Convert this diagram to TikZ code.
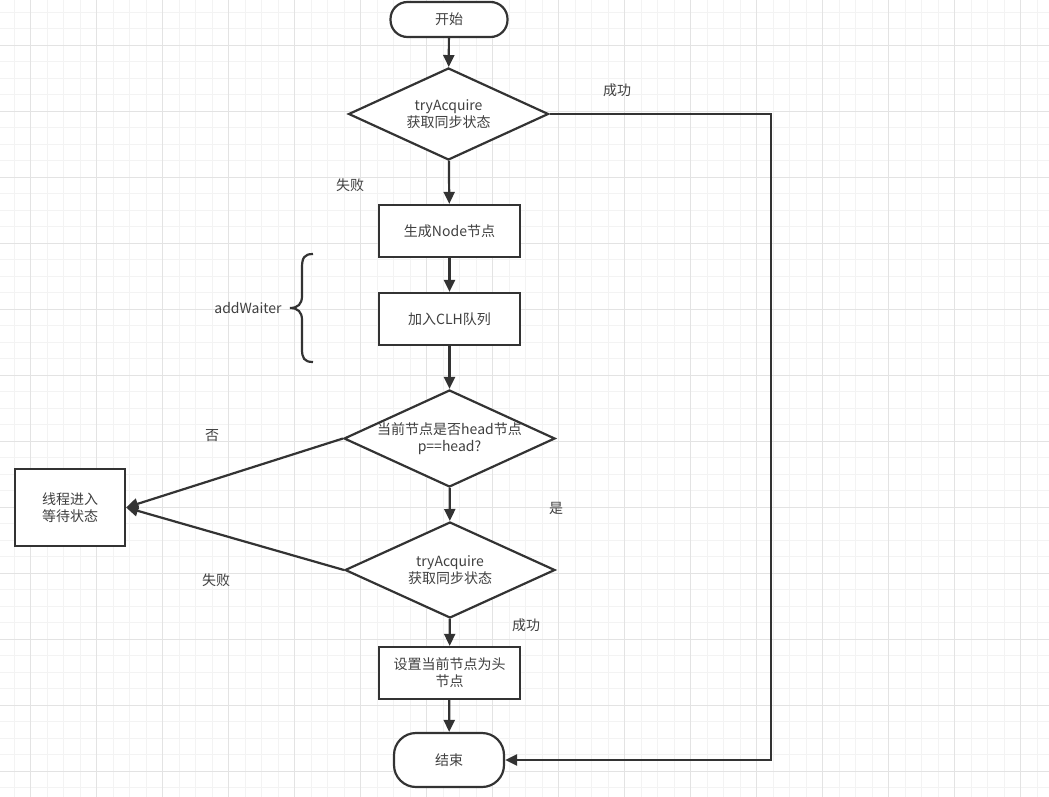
\documentclass[tikz,border=0pt]{standalone}
\usepackage{fontspec}
\setmainfont{Noto Sans CJK SC}
\usetikzlibrary{shapes.geometric,arrows.meta}
\definecolor{ink}{HTML}{333333}
\definecolor{txt}{HTML}{404040}
\definecolor{gmin}{HTML}{F3F3F3}
\definecolor{gmaj}{HTML}{E3E3E3}
\begin{document}
\begin{tikzpicture}[x=1pt,y=-1pt,
  every node/.style={font=\fontsize{14}{17}\selectfont, text=txt, align=center},
  box/.style={draw=ink, line width=2.2pt, fill=white, minimum width=141pt, minimum height=52pt, inner sep=2pt},
  term/.style={draw=ink, line width=2.2pt, fill=white, rounded corners=17pt},
  dia/.style={draw=ink, line width=2.2pt, fill=white, diamond, inner sep=0pt},
  lbl/.style={inner sep=0pt},
  arr/.style={draw=ink, line width=2.2pt, -{Triangle[length=12pt,width=11pt]}}
]
\useasboundingbox (0,0) rectangle (1049,797);
\fill[white] (0,0) rectangle (1049,797);
% grid
\foreach \i in {0,...,64} {
  \draw[gmin, line width=0.8pt] ({-2.5+16.5*\i},0) -- ({-2.5+16.5*\i},797);
}
\foreach \j in {0,...,49} {
  \draw[gmin, line width=0.8pt] (0,{-4.5+16.5*\j}) -- (1049,{-4.5+16.5*\j});
}
\foreach \i in {0,...,16} {
  \draw[gmaj, line width=0.8pt] ({30+66*\i},0) -- ({30+66*\i},797);
}
\foreach \j in {0,...,12} {
  \draw[gmaj, line width=0.8pt] (0,{45+66*\j}) -- (1049,{45+66*\j});
}
% nodes
\node[term, minimum width=117pt, minimum height=35pt] (start) at (449,19.5) {开始};
\node[dia, minimum width=200pt, minimum height=92pt] (d1) at (448.5,114) {};
\node (t1) at (d1.center) {tryAcquire\\获取同步状态};
\node[box] (n1) at (449.5,231) {生成Node节点};
\node[box] (n2) at (449.5,319) {加入CLH队列};
\node[dia, minimum width=211pt, minimum height=97pt] (d2) at (449.5,438.5) {};
\node (t2) at (d2.center) {当前节点是否head节点\\p==head?};
\node[dia, minimum width=210pt, minimum height=96pt] (d3) at (450,570) {};
\node (t3) at (d3.center) {tryAcquire\\获取同步状态};
\node[box] (n3) at (449.5,673) {设置当前节点为头\\节点};
\node[term, rounded corners=22pt, minimum width=110pt, minimum height=54pt] (end) at (449,760) {结束};
\node[box, minimum width=110pt, minimum height=77pt] (wait) at (70,507.5) {线程进入\\等待状态};
% labels
\node[lbl] (l1) at (617,90) {成功};
\node[lbl] (l2) at (350,185) {失败};
\node[lbl] (l3) at (212,436) {否};
\node[lbl] (l4) at (556,508) {是};
\node[lbl] (l5) at (216,580) {失败};
\node[lbl] (l6) at (526,625) {成功};
\node[lbl] (aw) at (248,308) {addWaiter};
% brace
\draw[ink, line width=2.2pt] (313,254) .. controls (304,254) and (302,258) .. (302,268) -- (302,296) .. controls (302,304) and (298,308) .. (290,308) .. controls (298,308) and (302,312) .. (302,320) -- (302,349) .. controls (302,358) and (304,362) .. (313,362);
% connectors
\coordinate (c1) at (771,114);
\draw[arr] (start) -- (d1);
\draw[arr] (d1) -- (n1);
\draw[arr] (n1) -- (n2);
\draw[arr] (n2) -- (d2);
\draw[arr] (d2) -- (d3);
\draw[arr] (d3) -- (n3);
\draw[arr] (n3) -- (end);
\draw[arr] (d1.east) -- (c1) |- (end.east);
\draw[arr] (d2.west) -- (wait.east);
\draw[arr] (d3.west) -- (wait.east);
\end{tikzpicture}
\end{document}
